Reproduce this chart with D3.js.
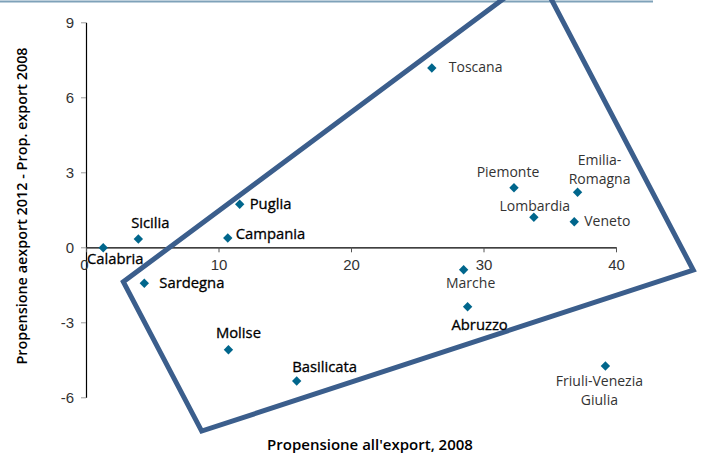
<!DOCTYPE html>
<html>
<head>
<meta charset="utf-8">
<script src="https://cdn.jsdelivr.net/npm/d3@7"></script>
<style>
  body { margin: 0; background: #fff; }
  svg { display: block; font-family: "Open Sans", "Noto Sans", sans-serif; }
  .tick-label { fill: #333; font-size: 15px; }
  .lbl-north { fill: #333; font-size: 14px; }
  .lbl-south { fill: #000; stroke: #000; stroke-width: 0.3px; font-size: 14.8px; }
  .title { fill: #000; font-size: 15px; font-weight: 600; }
</style>
</head>
<body>
<div id="chart"></div>
<script>
// Regioni: propensione all'export 2008 (x) e variazione 2012-2008 (y)
const regions = ['Calabria', 'Sicilia', 'Sardegna', 'Puglia', 'Campania', 'Molise', 'Basilicata',
  'Abruzzo', 'Marche', 'Toscana', 'Piemonte', 'Lombardia', 'Emilia-Romagna', 'Veneto',
  'Friuli-Venezia Giulia']
const export2008 = [1.3, 3.95, 4.4, 11.6, 10.7, 10.75, 15.9, 28.8, 28.5, 26.1, 32.3, 33.8, 37.1, 36.85, 39.2]
const delta = [-0.02, 0.33, -1.44, 1.72, 0.37, -4.1, -5.35, -2.38, -0.9, 7.17, 2.38, 1.2, 2.2, 1.02, -4.75]
const south = ['Calabria', 'Sicilia', 'Sardegna', 'Puglia', 'Campania', 'Molise', 'Basilicata', 'Abruzzo']

const xTicks = [0, 10, 20, 30, 40]
const yTicks = [-6, -3, 0, 3, 6, 9]

// Riquadro evidenziato (vertici in unita' dei dati)
const boxX = [2.82, 8.73, 45.83, 34.09]
const boxY = [-1.38, -7.35, -0.91, 10.96]

// Posizione delle etichette rispetto al punto (px)
const labelPos = {
  'Calabria': [12, 16, 'middle'],
  'Sicilia': [12, -11, 'middle'],
  'Sardegna': [15, 5, 'start'],
  'Puglia': [10, 5, 'start'],
  'Campania': [8, 1, 'start'],
  'Molise': [10, -12, 'middle'],
  'Basilicata': [28, -9, 'middle'],
  'Abruzzo': [12, 23, 'middle'],
  'Marche': [7, 18, 'middle'],
  'Toscana': [17, 4, 'start'],
  'Piemonte': [-6, -11, 'middle'],
  'Lombardia': [1, -6, 'middle'],
  'Emilia-Romagna': [22, -27, 'middle'],
  'Veneto': [10, 4, 'start'],
  'Friuli-Venezia Giulia': [-6, 20, 'middle']
}

const width = 702, height = 457
const svg = d3.select('#chart').append('svg')
  .attr('width', width)
  .attr('height', height)

const x = d3.scaleLinear().domain([0, 40]).range([86, 616])
const y = d3.scaleLinear().domain([-6, 9]).range([397.3, 22.3])

// top rule
svg.append('line')
  .attr('x1', 0).attr('x2', 653)
  .attr('y1', 1.5).attr('y2', 1.5)
  .attr('stroke', '#7fa2b9')
  .attr('stroke-width', 2)

// y axis
const yAxis = svg.append('g')
  .attr('transform', 'translate(' + x(0) + ',0)')
  .call(d3.axisLeft(y).tickValues(yTicks).tickSize(5).tickSizeOuter(0).tickPadding(7).tickFormat(d => String(d)))
yAxis.select('.domain').attr('stroke', '#000').attr('stroke-width', 1.2)
yAxis.selectAll('.tick line').attr('stroke', '#999')
yAxis.selectAll('.tick text').attr('class', 'tick-label').attr('font-family', null).attr('font-size', null)

// x axis at y = 0
const xAxis = svg.append('g')
  .attr('transform', 'translate(0,' + y(0) + ')')
  .call(d3.axisBottom(x).tickValues(xTicks).tickSize(5).tickSizeOuter(0).tickPadding(7).tickFormat(d => String(d)))
xAxis.select('.domain').attr('stroke', '#000').attr('stroke-width', 1.2)
xAxis.selectAll('.tick line').attr('stroke', '#555')
xAxis.selectAll('.tick text').attr('class', 'tick-label').attr('font-family', null).attr('font-size', null)
xAxis.selectAll('.tick text').filter(d => d === 0).attr('dx', -2)

// points
const data = regions.map((r, i) => ({ name: r, x: export2008[i], y: delta[i] }))

svg.append('g').selectAll('path')
  .data(data)
  .join('path')
  .attr('d', d3.symbol(d3.symbolDiamond2, 56))
  .attr('transform', d => 'translate(' + x(d.x) + ',' + y(d.y) + ')')
  .attr('fill', '#00668c')

// highlight box
const box = boxX.map((v, i) => [x(v), y(boxY[i])])
svg.append('path')
  .attr('d', d3.line()(box) + 'Z')
  .attr('fill', 'none')
  .attr('stroke', '#3b5e8c')
  .attr('stroke-width', 5)
  .attr('stroke-linejoin', 'miter')

// labels
const labels = svg.append('g')
data.forEach(d => {
  const p = labelPos[d.name]
  const lines = d.name === 'Emilia-Romagna' ? ['Emilia-', 'Romagna']
    : d.name === 'Friuli-Venezia Giulia' ? ['Friuli-Venezia', 'Giulia'] : [d.name]
  const t = labels.append('text')
    .attr('class', south.includes(d.name) ? 'lbl-south' : 'lbl-north')
    .attr('x', x(d.x) + p[0])
    .attr('y', y(d.y) + p[1])
    .attr('text-anchor', p[2])
  lines.forEach((l, i) => {
    t.append('tspan')
      .attr('x', x(d.x) + p[0])
      .attr('dy', i === 0 ? 0 : 19)
      .text(l)
  })
})

// axis titles
svg.append('text')
  .attr('class', 'title')
  .attr('x', 370)
  .attr('y', 450)
  .attr('text-anchor', 'middle')
  .text("Propensione all'export, 2008")

svg.append('text')
  .attr('class', 'title')
  .attr('transform', 'translate(27,206) rotate(-90)')
  .attr('text-anchor', 'middle')
  .style('font-size', '14.4px')
  .text('Propensione aexport 2012 - Prop. export 2008')
</script>
</body>
</html>
